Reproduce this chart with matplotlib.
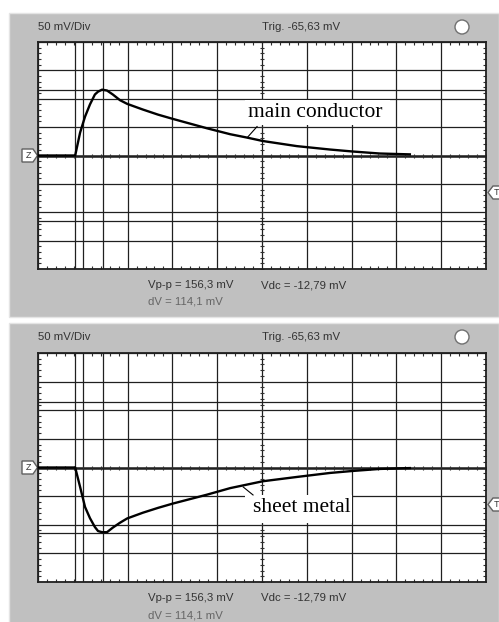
import numpy as np
import matplotlib
matplotlib.use('Agg')
import matplotlib.pyplot as plt
from matplotlib.patches import Rectangle, Circle, Polygon

# traces, x in divisions (10 across), y in divisions (50 mV/Div)
main_x = [0.0, 0.83, 0.94, 1.05, 1.16, 1.27, 1.34, 1.43, 1.54, 1.67, 1.83, 1.99,
          2.34, 2.68, 3.01, 3.77, 4.29, 4.67, 5.02, 5.78, 6.52, 7.03, 7.63, 8.30]
main_y = [0.0, 0.0, 0.81, 1.37, 1.80, 2.15, 2.25, 2.32, 2.29, 2.15, 1.95, 1.82,
          1.62, 1.44, 1.29, 0.96, 0.75, 0.63, 0.51, 0.33, 0.21, 0.14, 0.07, 0.04]
sheet_x = [0.0, 0.83, 0.94, 1.05, 1.16, 1.27, 1.34, 1.43, 1.54, 1.67, 1.83, 1.99,
           2.34, 2.68, 3.01, 3.77, 4.29, 5.02, 5.78, 6.52, 7.03, 7.63, 8.30]
sheet_y = [0.0, 0.0, -0.68, -1.38, -1.77, -2.08, -2.22, -2.26, -2.26, -2.10, -1.93, -1.78,
           -1.58, -1.41, -1.26, -0.95, -0.72, -0.48, -0.33, -0.19, -0.12, -0.05, -0.02]

# cursor positions (divisions)
cursor_x = [0.83, 1.45]
cursor_y_top = [2.32, -2.32]
cursor_y_bot = [2.29, -2.29]

scale_txt = '50 mV/Div'
trig_txt = 'Trig. -65,63 mV'
vpp_txt = 'Vp-p = 156,3 mV'
vdc_txt = 'Vdc = -12,79 mV'
dv_txt = 'dV = 114,1 mV'

W, H = 499, 622
fig = plt.figure(figsize=(W / 100, H / 100), dpi=100)
fig.patch.set_facecolor('white')

bg = fig.add_axes([0, 0, 1, 1])
bg.set_xlim(0, W)
bg.set_ylim(H, 0)
bg.axis('off')

gray = '#c0c0c0'
sans = 'Liberation Sans'
fs = 8.2


def px_rect(x0, y0, x1, y1):
    return [x0 / W, 1 - y1 / H, (x1 - x0) / W, (y1 - y0) / H]


def panel(top, bottom, plot_top, plot_bot, tr_x, tr_y, cur_y, label, lab_pos, lead, box):
    bg.add_patch(Rectangle((9, top), W - 9, bottom - top, fc=gray, ec='#e4e4e4', lw=1))
    ty = top + 14
    bg.text(38, ty, scale_txt, fontsize=fs, family=sans, color='#333333', va='center')
    bg.text(262, ty, trig_txt, fontsize=fs, family=sans, color='#333333', va='center')
    bg.add_patch(Circle((462, ty), 7, fc='white', ec='#707070', lw=1))
    bg.text(148, plot_bot + 16, vpp_txt, fontsize=fs, family=sans, color='#333333', va='center')
    bg.text(261, plot_bot + 16, vdc_txt, fontsize=fs, family=sans, color='#333333', va='center')
    bg.text(148, plot_bot + 33, dv_txt, fontsize=fs, family=sans, color='#666666', va='center')

    zy = plot_top + (plot_bot - plot_top) / 2
    bg.add_patch(Polygon([(22, zy - 6.5), (33, zy - 6.5), (37.5, zy), (33, zy + 6.5), (22, zy + 6.5)],
                         fc='white', ec='#606060', lw=1))
    bg.text(28.5, zy, 'Z', fontsize=6.5, family=sans, ha='center', va='center', color='#333333')
    t_y = zy + 37
    bg.add_patch(Polygon([(488, t_y), (493, t_y - 6.5), (503, t_y - 6.5), (503, t_y + 6.5), (493, t_y + 6.5)],
                         fc='white', ec='#606060', lw=1))
    bg.text(497, t_y, 'T', fontsize=6.5, family=sans, ha='center', va='center', color='#333333')

    ax = fig.add_axes(px_rect(38, plot_top, 486, plot_bot))
    ax.set_facecolor('white')
    ax.set_xlim(0, 10)
    ax.set_ylim(-4, 4)
    ax.set_xticks(range(11))
    ax.set_yticks(range(-4, 5))
    ax.set_xticks(np.arange(0, 10.01, 0.2), minor=True)
    ax.set_yticks(np.arange(-4, 4.01, 0.2), minor=True)
    ax.tick_params(which='both', direction='in', top=True, right=True,
                   labelbottom=False, labelleft=False)
    ax.tick_params(which='major', length=0)
    ax.tick_params(which='minor', length=2.5, width=0.8, color='#303030')
    ax.grid(True, which='major', color='#202020', lw=0.9)
    for s in ax.spines.values():
        s.set_color('#202020')
        s.set_linewidth(1.3)
    ax.axhline(0, color='#202020', lw=1.8, zorder=2)
    for cx in cursor_x:
        ax.axvline(cx, color='#202020', lw=0.9, zorder=2)
    for cy in cur_y:
        ax.axhline(cy, color='#202020', lw=0.9, zorder=2)
    # ticks on the centre lines
    mx = np.arange(0, 10.01, 0.2)
    my = np.arange(-4, 4.01, 0.2)
    ax.plot(np.full_like(my, 5), my, ls='none', marker='_', ms=3, mew=0.8, color='#303030')
    ax.plot(mx, np.zeros_like(mx), ls='none', marker='|', ms=3, mew=0.8, color='#303030')

    ax.add_patch(Rectangle((box[0], box[1]), box[2] - box[0], box[3] - box[1],
                           fc='white', ec='none', zorder=3))
    ax.plot(tr_x, tr_y, color='black', lw=1.7, zorder=4)
    ax.plot(lead[0], lead[1], color='black', lw=0.8, zorder=4)
    ax.text(lab_pos[0], lab_pos[1], label, family='Liberation Serif', fontsize=15.5,
            va='center', ha='left', zorder=5)
    return ax


panel(13, 317, 42, 269, main_x, main_y, cursor_y_top, 'main conductor',
      (4.68, 1.50), ([4.67, 4.89], [0.63, 1.02]), (4.62, 1.09, 7.86, 1.96))
panel(323, 640, 353, 582, sheet_x, sheet_y, cursor_y_bot, 'sheet metal',
      (4.80, -1.38), ([4.58, 4.80], [-0.68, -0.96]), (4.62, -1.93, 7.01, -0.97))

fig.savefig('out.png', dpi=100)
